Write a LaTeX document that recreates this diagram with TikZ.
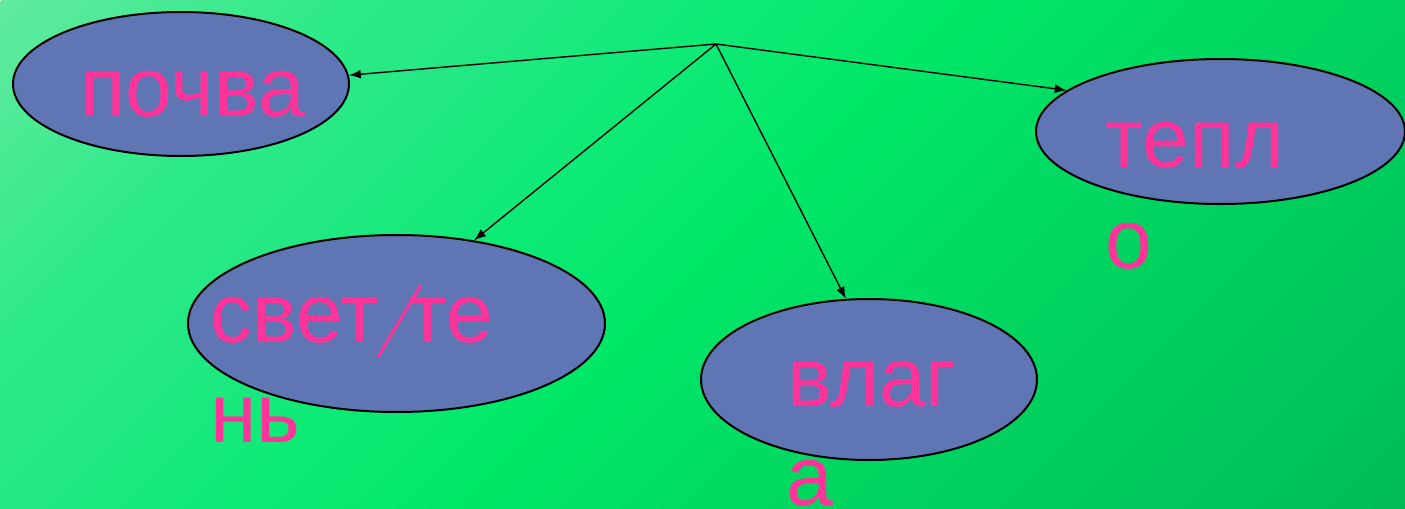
\documentclass[tikz,border=0pt]{standalone}
\usepackage{fontspec}
\setmainfont{Liberation Sans}
\usetikzlibrary{shapes.geometric,arrows.meta}
\definecolor{g0}{HTML}{62EAA0}
\definecolor{g1}{HTML}{2EEA88}
\definecolor{g2}{HTML}{24E885}
\definecolor{g3}{HTML}{10EA78}
\definecolor{g4}{HTML}{00E868}
\definecolor{g5}{HTML}{00D25F}
\definecolor{g6}{HTML}{00BC58}
\definecolor{ellfill}{HTML}{6076B4}
\definecolor{txtpink}{HTML}{FF3399}
\pgfdeclareverticalshading{bgshade}{676.5pt}{color(0pt)=(g6); color(182.7pt)=(g5); color(338.25pt)=(g4); color(426.2pt)=(g3); color(493.8pt)=(g2); color(554.7pt)=(g1); color(676.5pt)=(g0)}
\tikzset{
  oval/.style={ellipse, draw=black, line width=1pt, fill=ellfill, inner sep=0pt},
  lbl/.style={anchor=base west, inner sep=0pt, text=txtpink, font=\fontsize{42}{42}\selectfont},
  conn/.style={line width=0.7pt, -{Latex[length=6pt,width=4.5pt]}}
}
\begin{document}
\begin{tikzpicture}[x=0.5pt,y=-0.5pt]
\useasboundingbox (0,0) rectangle (1405,509);
\begin{scope}
\clip (0,0) rectangle (1405,509);
\node[inner sep=0pt, outer sep=0pt, rotate=45, anchor=center] (bg) at (702.5,254.5) {\pgfuseshading{bgshade}};
\end{scope}
% ellipses
\node[oval, minimum width=336pt*0.5, minimum height=144pt*0.5] (pochva) at (181,84) {};
\node[oval, minimum width=417pt*0.5, minimum height=177pt*0.5] (svet) at (396.5,323.5) {};
\node[oval, minimum width=336pt*0.5, minimum height=161pt*0.5] (vlaga) at (869,379.5) {};
\node[oval, minimum width=369pt*0.5, minimum height=145pt*0.5] (teplo) at (1220.5,131.5) {};
% texts
\node[lbl] (tpochva) at (80,116) {почва};
\node[lbl] (tsvet) at (210,342) {свет\hspace{15pt}те};
\node[lbl] (tsvet2) at (210,442) {нь};
\node[lbl] (tvlaga) at (787,406) {влаг};
\node[lbl] (tvlaga2) at (786,505) {а};
\node[lbl] (tteplo) at (1105,167) {тепл};
\node[lbl] (tteplo2) at (1105,268) {о};
\coordinate (s1) at (378,357);
\coordinate (s2) at (421,285);
\draw[txtpink, line width=1.5pt] (s1) -- (s2);
% connectors
\coordinate (hub) at (716,44);
\draw[conn] (hub) -- (pochva.3);
\draw[conn] (hub) -- (svet.47);
\draw[conn] (hub) -- (vlaga.106.6);
\draw[conn] (hub) -- (teplo.165.5);
\end{tikzpicture}
\end{document}
